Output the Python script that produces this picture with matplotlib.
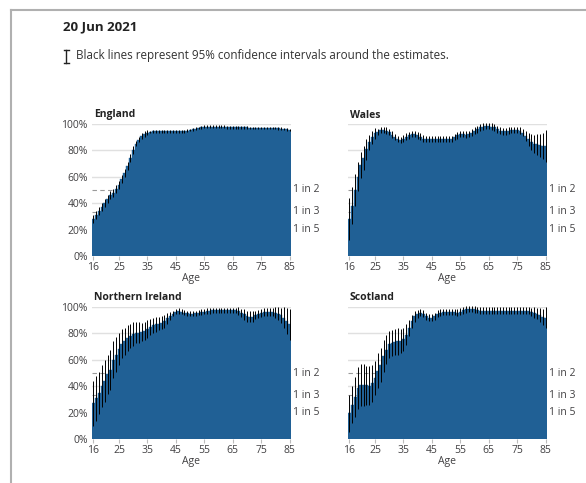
import numpy as np
import matplotlib.pyplot as plt
from matplotlib.lines import Line2D

plt.rcParams['font.family'] = ['Open Sans', 'DejaVu Sans']

ages = list(range(16, 86))

# percentage of adults with antibodies, by single year of age (16..85)
england = [28, 31, 34, 37, 40, 43, 46, 48, 51, 54, 58, 63, 68, 74, 80, 85, 88, 91, 92.5, 93.5,
           94, 94.5, 94.5, 94.5, 94.5, 94.5, 94.5, 94.5, 94.5, 94.5, 94.5, 94.5, 94.5, 95, 95.5, 96,
           96.5, 97, 97.5, 98, 98, 98, 98, 98, 98, 98, 98, 97.5, 97.5, 97.5, 97.5, 97.5, 97.5, 97.5,
           97.5, 97, 97, 97, 97, 97, 97, 97, 97, 97, 97, 96.8, 96.5, 96.2, 96, 95.5]
wales = [28, 38, 50, 60, 69, 74, 81, 86, 90, 93, 94, 95.4, 95.4, 95, 94, 92, 90, 88.5, 88, 89,
         90.5, 91.5, 92.3, 92.3, 91.5, 90.5, 89, 88.5, 88.5, 88.5, 88.5, 88.5, 88.5, 88.5, 88.5,
         88.5, 88.5, 90, 91.5, 92.3, 92.3, 92, 92.3, 93.5, 95, 96, 97.4, 98, 98.7, 98.7, 98, 97.4,
         96, 95, 94.4, 94.4, 95, 95.4, 95.6, 95.6, 95, 93.5, 91, 88.5, 86.4, 85, 84.6, 83.8, 83.3,
         83.3]
n_ireland = [27, 31, 35, 40, 44, 49, 52.5, 60, 64, 68, 72, 74, 76.6, 78, 79.7, 80.5, 80.5, 81.2,
             82, 83.5, 84.8, 86, 86.8, 87.5, 88, 89.3, 91.4, 93, 95, 96.4, 97, 96.4, 95.7, 95.2,
             95, 95, 95.2, 95.7, 96.2, 96.4, 97, 97, 97.5, 97.5, 97.5, 97.5, 97.5, 97.5, 97.5,
             97.5, 97.5, 97, 95.7, 94.4, 93, 92.6, 92.6, 93.6, 95, 95.7, 96.2, 96.2, 96.2, 96,
             95.7, 95, 93.6, 91.9, 89.3, 86.8]
scotland = [19.5, 26, 32, 38.6, 41, 41, 40.6, 40.4, 42.4, 46, 51.8, 56.3, 62.7, 67.8, 71.6, 72.8,
            73.6, 74, 74, 75.4, 79, 84.3, 89.3, 93, 95, 95.7, 95, 93, 92, 92, 93, 95, 95.7, 96.2,
            96.2, 96.2, 96.2, 96.2, 95.7, 96.4, 97.5, 98.2, 98.7, 98.7, 98.2, 97.7, 97.2, 97.2,
            97.2, 97.2, 97.2, 97.2, 97.2, 97.2, 97.2, 97.2, 97.2, 97.2, 97.2, 97.2, 97.2, 97.2,
            97.2, 97.2, 96.4, 95.7, 95, 94, 92.6, 92]

# half-width of the 95% confidence interval
england_ci = [3] * 15 + [2] * 5 + [1] * 50
wales_ci = [16, 14, 12, 11, 10, 9, 8, 6, 5, 4] + [2.5] * 52 + [4, 5, 6, 7, 8, 9, 10, 12]
n_ireland_ci = [17, 17, 16, 16, 16, 15, 15, 14, 13, 12, 11, 10, 10, 9, 9, 8, 8, 7, 7, 7, 6, 6, 6,
                5, 5, 5, 4, 3] + [2] * 23 + [3, 3, 4, 4, 4, 4, 3, 3, 3, 3, 3, 3, 3, 4, 5, 6, 8,
                                              10, 12]
scotland_ci = [14, 14, 15, 16, 16, 16, 15, 15, 14, 13, 13, 13, 12, 11, 10, 10, 10, 10, 9, 9, 8,
               6, 5, 4, 3] + [2.5] * 39 + [3, 4, 4, 5, 6, 8]

panels = [
    ("England", england, england_ci, 92, 256, True),
    ("Wales", wales, wales_ci, 348, 256, False),
    ("Northern Ireland", n_ireland, n_ireland_ci, 92, 439, True),
    ("Scotland", scotland, scotland_ci, 348, 439, False),
]

W, H = 586, 483
blue = "#206095"
txt = "#414042"

fig = plt.figure(figsize=(W / 100, H / 100), dpi=100)

# card border (top and left)
fig.add_artist(Line2D([11 / W, 1], [1 - 10 / H, 1 - 10 / H], color="#b0b0b0", lw=1.5))
fig.add_artist(Line2D([11 / W, 11 / W], [0, 1 - 10 / H], color="#b0b0b0", lw=1.5))

fig.text(63 / W, 1 - 27 / H, "20 Jun 2021", fontsize=9.5, fontweight="bold",
         color="#222222", va="center", ha="left")
# error bar icon
ix = 66 / W
fig.add_artist(Line2D([ix, ix], [1 - 50 / H, 1 - 63 / H], color="#222222", lw=1))
fig.add_artist(Line2D([63.5 / W, 68.5 / W], [1 - 50 / H, 1 - 50 / H], color="#222222", lw=1))
fig.add_artist(Line2D([63.5 / W, 68.5 / W], [1 - 63 / H, 1 - 63 / H], color="#222222", lw=1))
fig.text(76 / W, 1 - 56 / H, "Black lines represent 95% confidence intervals around the estimates.",
         fontsize=8.4, color="#333333", va="center", ha="left")

for name, vals, ci, px, py, show_y in panels:
    ax = fig.add_axes([px / W, 1 - py / H, 199 / W, 132 / H])
    vals = np.array(vals)
    ci = np.array(ci)
    ax.set_xlim(15.5, 85.5)
    ax.set_ylim(0, 100)
    for g in [20, 40, 60, 80, 100]:
        ax.axhline(g, color="#e0e0e0", lw=1, zorder=0)
    for g in [50, 100 / 3, 20]:
        ax.axhline(g, color="#9a9a9a", lw=0.8, ls=(0, (4, 3)), zorder=0.5)
    ax.bar(ages, vals, width=1.0, color=blue, edgecolor=blue, lw=0.3, zorder=2)
    ax.vlines(ages, np.maximum(vals - ci, 0), np.minimum(vals + ci, 100.5), color="black",
              lw=0.7, zorder=3, clip_on=False)
    for s in ax.spines.values():
        s.set_visible(False)
    ax.set_xticks([16, 25, 35, 45, 55, 65, 75, 85])
    ax.tick_params(axis="x", length=3, color="#bbbbbb", labelsize=7.5, labelcolor=txt, pad=1)
    ax.set_xlabel("Age", fontsize=7.5, color=txt, labelpad=0)
    ax.set_yticks([0, 20, 40, 60, 80, 100])
    if show_y:
        ax.set_yticklabels(["0%", "20%", "40%", "60%", "80%", "100%"])
    else:
        ax.set_yticklabels([])
    ax.tick_params(axis="y", length=0, labelsize=7.5, labelcolor=txt, pad=3)
    ax.set_facecolor("none")
    for label, yv in [("1 in 2", 50), ("1 in 3", 100 / 3), ("1 in 5", 20)]:
        ax.text(85.5 + 0.6, yv, label, fontsize=7.5, color=txt, va="center", ha="left")
    fig.text((px + 2) / W, 1 - (py - 141) / H, name, fontsize=7.5, fontweight="bold",
             color="#222222", va="center", ha="left")

fig.savefig("out.png", dpi=100)
